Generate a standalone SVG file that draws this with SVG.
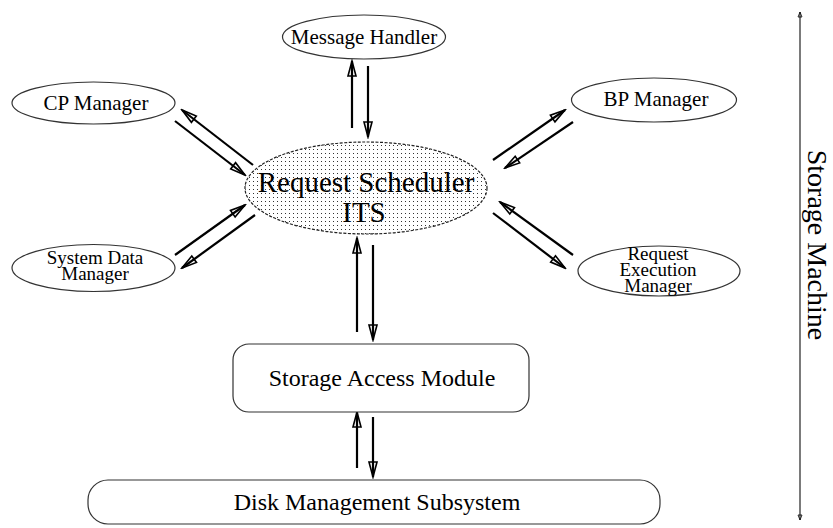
<svg xmlns="http://www.w3.org/2000/svg" width="833" height="528" viewBox="0 0 833 528">
<defs>
<pattern id="dots" width="4" height="4" patternUnits="userSpaceOnUse"><rect x="1" y="1" width="1" height="1" fill="#333"/></pattern>
<marker id="ah" viewBox="-17 -6 19 12" refX="0" refY="0" markerWidth="19" markerHeight="12" orient="auto" markerUnits="userSpaceOnUse"><path d="M0,0 L-15,-4 L-15,4 Z" fill="none" stroke="#000" stroke-width="1.6"/></marker>
<marker id="sm" viewBox="-6 -3 7 6" refX="0" refY="0" markerWidth="7" markerHeight="6" orient="auto" markerUnits="userSpaceOnUse"><path d="M0,0 L-5,-2 L-5,2 Z" fill="none" stroke="#000" stroke-width="0.8"/></marker>
</defs>
<style>
.t{font-family:"Liberation Serif","Times New Roman",serif;fill:#000;text-anchor:middle}
.node{fill:#fff;stroke:#333;stroke-width:1.2}
.arr{stroke:#000;stroke-width:2.2;fill:none;marker-end:url(#ah)}
</style>
<rect width="833" height="528" fill="#fff"/>

<g id="connectors">
<line class="arr" x1="352" y1="128" x2="352" y2="61"/>
<line class="arr" x1="368" y1="66" x2="368" y2="137"/>
<line class="arr" x1="253" y1="165" x2="182" y2="110"/>
<line class="arr" x1="175" y1="121" x2="245" y2="175"/>
<line class="arr" x1="175" y1="255" x2="245" y2="205"/>
<line class="arr" x1="255" y1="215" x2="182" y2="268"/>
<line class="arr" x1="493" y1="160" x2="565" y2="110"/>
<line class="arr" x1="573" y1="122" x2="505" y2="168"/>
<line class="arr" x1="573" y1="255" x2="500" y2="202"/>
<line class="arr" x1="493" y1="213" x2="565" y2="268"/>
<line class="arr" x1="357" y1="332" x2="357" y2="238"/>
<line class="arr" x1="373" y1="245" x2="373" y2="340"/>
<line class="arr" x1="357" y1="468" x2="357" y2="412"/>
<line class="arr" x1="373" y1="417" x2="373" y2="477"/>
</g>

<g id="message-handler">
<ellipse class="node" cx="364" cy="37" rx="81.5" ry="22"/>
<text class="t" x="364" y="44" font-size="21">Message Handler</text>
</g>
<g id="cp-manager">
<ellipse class="node" cx="93.5" cy="103" rx="81.5" ry="21"/>
<text class="t" x="96" y="110" font-size="21">CP Manager</text>
</g>
<g id="system-data-manager">
<ellipse class="node" cx="93.5" cy="268" rx="81.5" ry="23.5"/>
<text class="t" x="95" y="264" font-size="19">System Data</text>
<text class="t" x="95" y="280" font-size="19">Manager</text>
</g>
<g id="bp-manager">
<ellipse class="node" cx="654" cy="100" rx="82.5" ry="22"/>
<text class="t" x="656" y="106" font-size="21">BP Manager</text>
</g>
<g id="request-execution-manager">
<ellipse class="node" cx="659" cy="271" rx="81" ry="25"/>
<text class="t" x="658" y="260" font-size="19">Request</text>
<text class="t" x="658" y="276" font-size="19">Execution</text>
<text class="t" x="658" y="292" font-size="19">Manager</text>
</g>
<g id="request-scheduler">
<ellipse cx="366" cy="188" rx="121" ry="46" fill="#fff"/>
<ellipse cx="366" cy="188" rx="121" ry="46" fill="url(#dots)" stroke="#222" stroke-width="1.2" stroke-dasharray="3 1.5"/>
<text class="t" x="366" y="192" font-size="29">Request Scheduler</text>
<text class="t" x="364" y="222" font-size="29">ITS</text>
</g>
<g id="storage-access-module">
<rect class="node" x="233" y="344" width="296" height="68" rx="16" ry="16"/>
<text class="t" x="382" y="386" font-size="24">Storage Access Module</text>
</g>
<g id="disk-management-subsystem">
<rect class="node" x="88" y="480" width="572" height="44" rx="20" ry="20"/>
<text class="t" x="377" y="510" font-size="24">Disk Management Subsystem</text>
</g>
<g id="storage-machine">
<line x1="800" y1="266" x2="800" y2="12" stroke="#222" stroke-width="1.2" marker-end="url(#sm)"/>
<line x1="800" y1="266" x2="800" y2="520" stroke="#222" stroke-width="1.2" marker-end="url(#sm)"/>
<text class="t" x="0" y="0" font-size="28" transform="translate(808,245) rotate(90)">Storage Machine</text>
</g>
</svg>
